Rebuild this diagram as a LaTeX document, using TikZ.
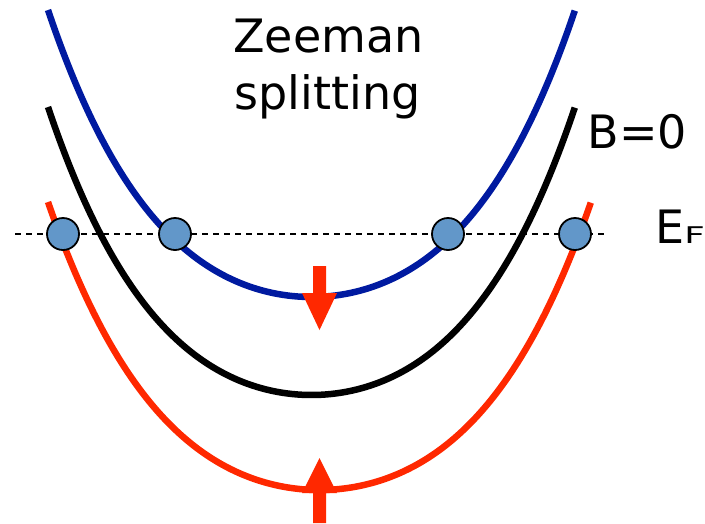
\documentclass[tikz,border=0pt]{standalone}
\usepackage{fontspec}
\usepackage{graphicx}
\setmainfont{DejaVu Sans}
\definecolor{bandblue}{RGB}{0,26,160}
\definecolor{bandred}{RGB}{255,40,0}
\definecolor{dotfill}{RGB}{98,151,201}
\begin{document}
\begin{tikzpicture}[x=1pt,y=-1pt,
  band/.style={line width=6.5pt},
  fermi/.style={line width=1.4pt,dash pattern=on 6pt off 5pt},
  dot/.style={circle,draw=black,line width=1.8pt,fill=dotfill,minimum size=32pt,inner sep=0pt},
  lbl/.style={font=\fontsize{46}{55}\selectfont,inner sep=0pt,anchor=base west},
  spinarrow/.style={fill=bandred}]
\useasboundingbox (0,0) rectangle (705,523);
% bands
\draw[band,bandblue] plot[domain=-1:1,samples=120,smooth]
  ({311.5+263.5*\x},{10+287*(1-0.64*\x*\x-0.36*\x*\x*\x*\x)});
\draw[band,black] plot[domain=-1:1,samples=120,smooth]
  ({311.5+263.5*\x},{107+288*(1-0.64*\x*\x-0.36*\x*\x*\x*\x)});
\draw[band,bandred] plot[domain=-1:1,samples=120,smooth]
  ({319.5+271.5*\x},{202+288*(1-0.64*\x*\x-0.36*\x*\x*\x*\x)});
% Fermi level
\coordinate (fl) at (15,234);
\coordinate (fr) at (608,234);
\draw[fermi] (fl) -- (fr);
% Fermi points
\node[dot] (d1) at (63,234) {};
\node[dot] (d2) at (175,234) {};
\node[dot] (d3) at (448,234) {};
\node[dot] (d4) at (575,234) {};
% spin arrows
\fill[spinarrow] (313,266) -- (326,266) -- (326,293) -- (337,293) -- (319.5,330) -- (302,293) -- (313,293) -- cycle;
\fill[spinarrow] (313,523) -- (326,523) -- (326,493) -- (337,493) -- (319.5,458) -- (302,493) -- (313,493) -- cycle;
% labels
\node[lbl] (z1) at (233,52) {Zeeman};
\node[lbl] (z2) at (234.5,109) {splitting};
\node[lbl] (b0) at (587.5,148) {B=0};
\node[lbl] (ef) at (655,243) {E\fontsize{23}{28}\selectfont\scalebox{1.55}[1]{F}};
\end{tikzpicture}
\end{document}
